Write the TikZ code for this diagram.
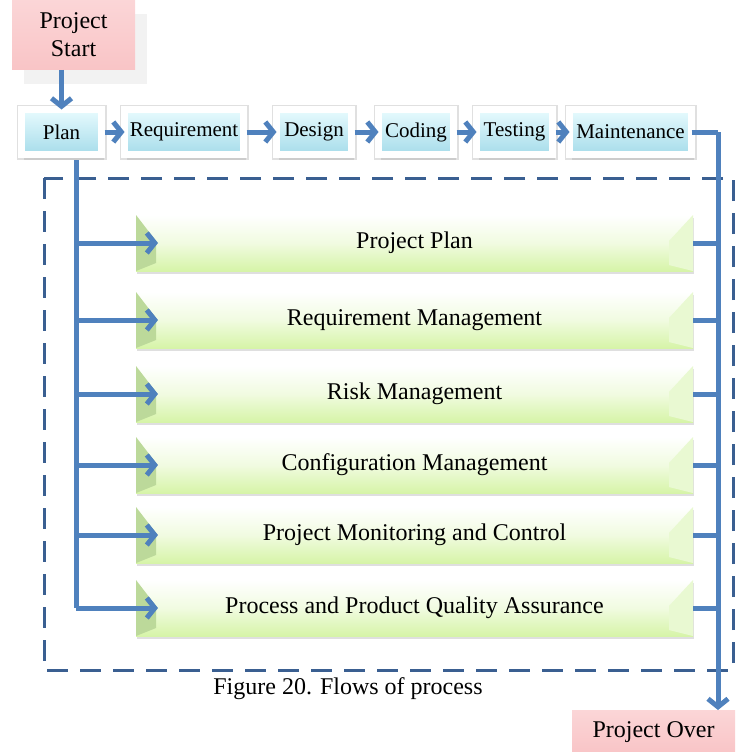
\documentclass[tikz,border=0pt]{standalone}
\usepackage{fontspec}
\setmainfont{Liberation Serif}
\usetikzlibrary{positioning, arrows.meta, shadows}
\definecolor{flowblue}{HTML}{4F81BD}
\definecolor{dashblue}{HTML}{3A5F91}
\definecolor{cyantop}{HTML}{E8FBFE}
\definecolor{cyanbot}{HTML}{A6DCEA}
\definecolor{limebot}{HTML}{D6F4A8}
\definecolor{limedark}{HTML}{BCD99A}
\definecolor{limelite}{HTML}{E9F9D2}
\definecolor{pinkbox}{HTML}{F9C4C6}
\tikzset{
  stage/.style={draw=white, line width=7pt, outer sep=0pt, top color=cyantop, bottom color=cyanbot,
    minimum height=45pt, inner sep=0pt, font=\fontsize{21}{24}\selectfont,
    preaction={draw=black!12, line width=10pt},
    drop shadow={opacity=0.2, shadow xshift=2pt, shadow yshift=-5pt}},
  area/.style={outer sep=0pt, minimum width=557pt, minimum height=56pt, top color=white, bottom color=limebot,
    middle color=limebot!35, font=\fontsize{24}{28}\selectfont,
    drop shadow={opacity=0.25, shadow xshift=1pt, shadow yshift=-3pt},
    path picture={
      \fill[limedark] (path picture bounding box.north west) -- ++(20pt,-26pt) -- ++(0pt,-22pt)
        -- (path picture bounding box.south west) -- cycle;
      \fill[limelite] (path picture bounding box.north east) -- ++(-24pt,-26pt) -- ++(0pt,-24pt)
        -- (path picture bounding box.south east) -- cycle;}},
  terminal/.style={outer sep=0pt, inner sep=0pt, top color=pinkbox!70, bottom color=pinkbox,
    font=\fontsize{24}{28}\selectfont, align=center},
  flow/.style={draw=flowblue, line width=5pt, -{Straight Barb[length=8pt,width=20pt]}},
  link/.style={draw=flowblue, line width=5pt},
  group/.style={draw=dashblue, line width=3pt, dash pattern=on 21pt off 12pt}
}
\begin{document}
\begin{tikzpicture}[x=1pt,y=-1pt]
  \useasboundingbox (0,0) rectangle (746,752);
  % start and end
  \node[terminal, minimum width=123pt, minimum height=70pt,
    drop shadow={opacity=0.1, shadow xshift=12pt, shadow yshift=-14pt}] (start) at (73.5,35) {Project\\Start};
  \node[terminal, minimum width=163pt, minimum height=44pt] (over) at (653.5,732) {Project Over};
  % phases
  \node[stage, minimum width=80pt] (plan) at (61.5,132) {Plan};
  \node[stage, minimum width=119pt] (req) at (184,132) {Requirement};
  \node[stage, minimum width=75pt] (design) at (314,132) {Design};
  \node[stage, minimum width=75pt] (coding) at (416,132) {Coding};
  \node[stage, minimum width=76pt] (testing) at (514.5,132) {Testing};
  \node[stage, minimum width=122pt] (maint) at (630.5,132) {Maintenance};
  % dashed frame
  \draw[group] (44,178) rectangle (733,670);
  % process areas
  \node[area] (pp) at (414.5,243) {Project Plan};
  \node[area] (rm) at (414.5,320) {Requirement Management};
  \node[area] (risk) at (414.5,394) {Risk Management};
  \node[area] (cm) at (414.5,465) {Configuration Management};
  \node[area] (pmc) at (414.5,535) {Project Monitoring and Control};
  \node[area] (ppqa) at (414.5,608) {Process and Product Quality Assurance};
  % caption
  \node[font=\fontsize{24}{28}\selectfont] (cap) at (348,689) {Figure 20. Flows of process};
  % connectors
  \coordinate (trunk) at (76,160);
  \coordinate (rail) at (718,132);
  \draw[flow] (plan.north |- start.south) -- (plan.north);
  \draw[flow, shorten <=3pt] (plan) -- (req);
  \draw[flow, shorten <=3pt] (req) -- (design);
  \draw[flow, shorten <=3pt] (design) -- (coding);
  \draw[flow, shorten <=3pt] (coding) -- (testing);
  \draw[flow, shorten <=3pt] (testing) -- (maint);
  \draw[link] (trunk) -- (trunk |- ppqa);
  \foreach \n in {pp, rm, risk, cm, pmc, ppqa}
    \draw[flow] (trunk |- \n) -- ([xshift=22pt]\n.west);
  \draw[link] (maint.east) -- (rail);
  \draw[flow] (rail) -- (rail |- over.north);
  \foreach \n in {pp, rm, risk, cm, pmc, ppqa}
    \draw[link] (\n.east) -- (rail |- \n);
\end{tikzpicture}
\end{document}
